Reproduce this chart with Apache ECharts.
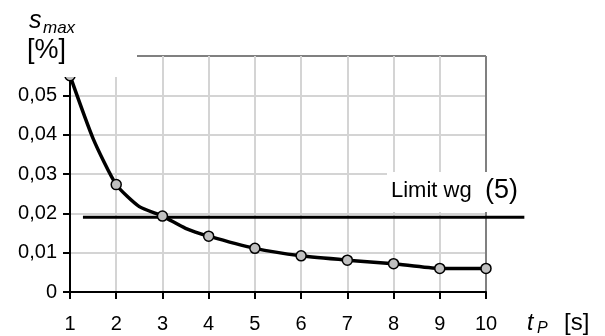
<!DOCTYPE html>
<html>
<head>
<meta charset="utf-8">
<script src="https://cdn.jsdelivr.net/npm/echarts@6.0.0/dist/echarts.min.js"></script>
<style>
html, body { margin: 0; padding: 0; background: #fff; }
#chart { width: 605px; height: 336px; }
</style>
</head>
<body>
<div id="chart"></div>
<script>
// data
var tpValues = [1, 1.5, 2, 2.5, 3, 3.5, 4, 5, 6, 7, 8, 9, 10];
var sMaxValues = [0.055, 0.039, 0.0273, 0.0217, 0.0193, 0.0162, 0.0142, 0.0111, 0.0092, 0.0081, 0.0072, 0.006, 0.006];
var limitFrom = 1.28;
var limitTo = 10.83;
var limitValue = 0.019;

var font = '"Liberation Sans", Arial, sans-serif';
var gridColor = '#d4d4d4';
var frameColor = '#808080';

var curveData = tpValues.map(function (t, i) {
    return {
        value: [t, sMaxValues[i]],
        // markers only on whole seconds
        symbol: t % 1 === 0 ? 'circle' : 'none'
    };
});

var chart = echarts.init(document.getElementById('chart'));
var option = {
    animation: false,
    textStyle: { fontFamily: font },
    grid: [
        { left: 70, right: 119, top: 56, bottom: 44 },
        // wider grid with the same scale, so the limit line can run past 10
        { left: 70, right: 72.8, top: 56, bottom: 44 }
    ],
    xAxis: [
        {
            type: 'value',
            min: 1,
            max: 10,
            interval: 1,
            axisLine: { show: true, lineStyle: { color: '#000', width: 2 } },
            axisTick: { show: true, length: 7, lineStyle: { color: '#000', width: 2 } },
            axisLabel: { color: '#000', fontSize: 20, margin: 22, fontFamily: font },
            // last line (t=10) is the grey frame
            splitLine: {
                show: true,
                lineStyle: {
                    width: 2,
                    color: [gridColor, gridColor, gridColor, gridColor, gridColor,
                        gridColor, gridColor, gridColor, gridColor, frameColor]
                }
            }
        },
        { type: 'value', gridIndex: 1, min: 1, max: 11, show: false }
    ],
    yAxis: [
        {
            type: 'value',
            min: 0,
            max: 0.06,
            interval: 0.01,
            axisLine: { show: true, lineStyle: { color: '#000', width: 2 } },
            axisTick: { show: true, length: 7, lineStyle: { color: '#000', width: 2 } },
            axisLabel: {
                color: '#000',
                fontSize: 20,
                margin: 13,
                fontFamily: font,
                formatter: function (v) {
                    return v === 0 ? '0' : v.toFixed(2).replace('.', ',');
                }
            },
            // top line (0,06) is the grey frame
            splitLine: {
                show: true,
                lineStyle: {
                    width: 2,
                    color: [gridColor, gridColor, gridColor, gridColor, gridColor, gridColor, frameColor]
                }
            }
        },
        { type: 'value', gridIndex: 1, min: 0, max: 0.06, show: false }
    ],
    series: [
        {
            name: 'smax',
            type: 'line',
            data: curveData,
            smooth: 0.2,
            symbolSize: 10,
            clip: false,
            lineStyle: { color: '#000', width: 3.5 },
            itemStyle: { color: '#c0c0c0', borderColor: '#000', borderWidth: 1.5 },
            z: 3
        },
        {
            name: 'limit',
            type: 'line',
            xAxisIndex: 1,
            yAxisIndex: 1,
            data: [[limitFrom, limitValue], [limitTo, limitValue]],
            symbol: 'none',
            lineStyle: { color: '#000', width: 3 },
            z: 2
        }
    ],
    graphic: [
        // white box behind the y axis title
        { type: 'rect', left: 15, top: 34, shape: { width: 122, height: 43 }, style: { fill: '#fff' }, z: 100 },
        { type: 'text', left: 27, top: 37, style: { text: '[%]', font: '27px ' + font, fill: '#000' }, z: 101 },
        { type: 'text', left: 29, top: 9, style: { text: 's', font: 'italic 25px ' + font, fill: '#000' }, z: 101 },
        { type: 'text', left: 43, top: 20, style: { text: 'max', font: 'italic 17px ' + font, fill: '#000' }, z: 101 },
        // limit label
        { type: 'rect', left: 387, top: 172, shape: { width: 113, height: 40 }, style: { fill: '#fff' }, z: 100 },
        { type: 'text', left: 391, top: 180, style: { text: 'Limit wg', font: '22px ' + font, fill: '#000' }, z: 101 },
        { type: 'text', left: 485, top: 177, style: { text: '(5)', font: '27px ' + font, fill: '#000' }, z: 101 },
        // x axis title
        { type: 'text', left: 527, top: 312, style: { text: 't', font: 'italic 23px ' + font, fill: '#000' }, z: 101 },
        { type: 'text', left: 537, top: 321, style: { text: 'P', font: 'italic 16px ' + font, fill: '#000' }, z: 101 },
        { type: 'text', left: 564, top: 311, style: { text: '[s]', font: '24px ' + font, fill: '#000' }, z: 101 }
    ]
};
chart.setOption(option);
</script>
</body>
</html>
